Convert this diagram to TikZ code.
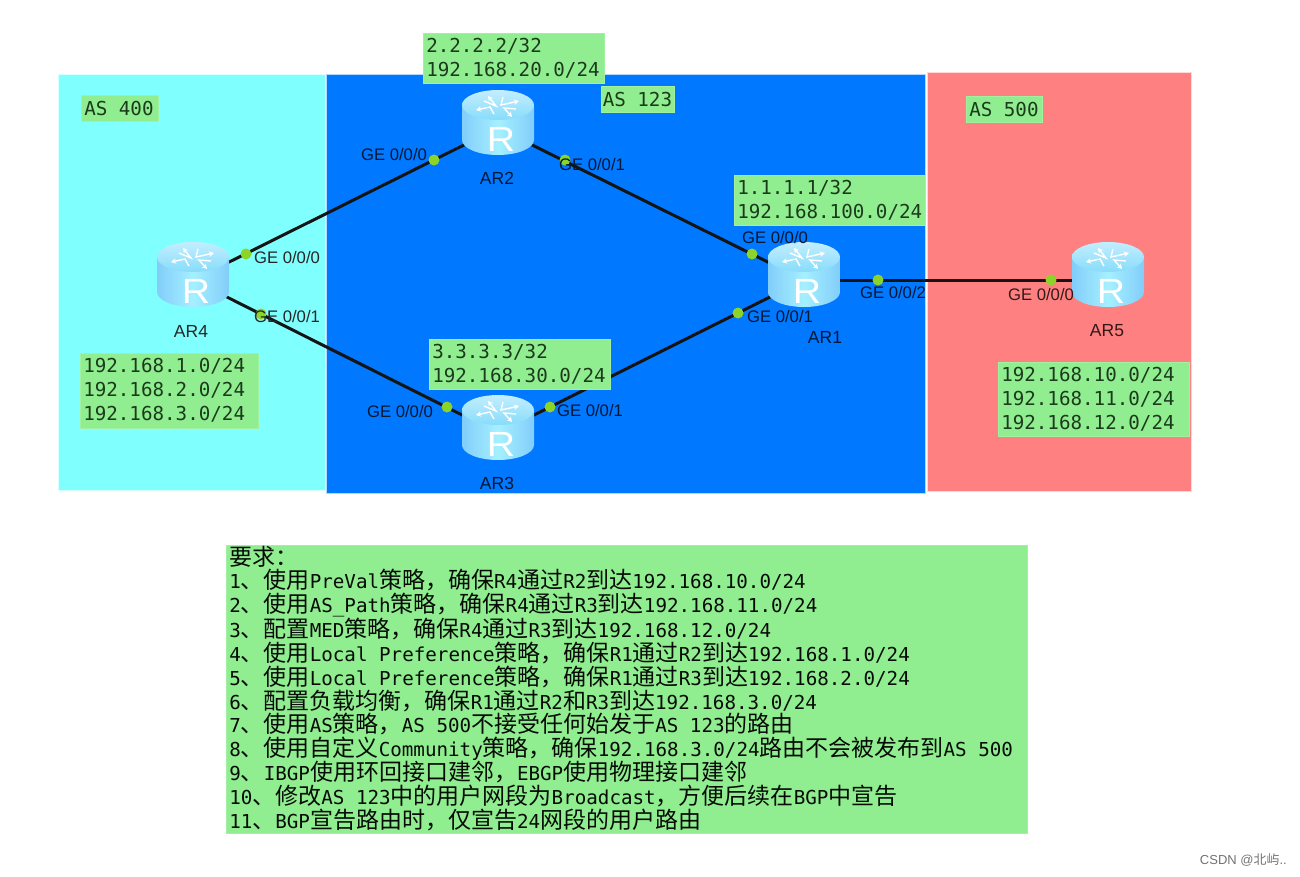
\documentclass[tikz,border=0pt]{standalone}
\usepackage{fontspec}
\setmainfont{Liberation Sans}
\newfontfamily\monof{DejaVu Sans Mono}
\newfontfamily\cjkf{Noto Sans CJK SC}
\newfontfamily\routerf{Liberation Sans}
\usetikzlibrary{arrows.meta}
\definecolor{gbox}{HTML}{90EE90}
\definecolor{gtext}{HTML}{1C3A1C}
\definecolor{as4}{HTML}{80FFFF}
\definecolor{as1}{HTML}{0078FF}
\definecolor{as5}{HTML}{FF8080}
\definecolor{dotc}{HTML}{8CD42A}
\newcommand{\Cj}[1]{{\cjkf\fontsize{23}{23.7}\selectfont #1}}
\tikzset{
  x=1pt,y=-1pt,
  region/.style={draw=white!70!#1,line width=1pt,fill=#1,anchor=north west,inner sep=0pt},
  greenbox/.style={fill=gbox,draw=gbox!85!white,line width=.5pt,anchor=north west,inner xsep=3pt,inner ysep=0pt,align=flush left,text=gtext,
    font=\monof\fontsize{19.2}{24}\selectfont},
  reqbox/.style={greenbox,font=\monof\fontsize{19.2}{23.8}\selectfont,text=black!80!gtext},
  port/.style={circle,fill=dotc,inner sep=0pt,minimum size=11pt},
  iflabel/.style={font=\fontsize{16.7}{18}\selectfont,text=#1,inner sep=0pt},
  iflabel/.default={black!85},
  rname/.style={font=\fontsize{17.5}{18}\selectfont,text=#1,inner sep=0pt},
  rname/.default={black!85},
  rbox/.style={minimum width=74pt,minimum height=66pt,inner sep=0pt},
  link/.style={line width=3pt,draw=black!92},
  iconarrow/.style={draw=white,line width=1.4pt,-{Stealth[length=5pt,width=5.5pt]}},
  router/.pic={
    \path[left color={rgb,255:red,130;green,205;blue,250},right color={rgb,255:red,130;green,205;blue,250},middle color={rgb,255:red,165;green,240;blue,255}]
      (-36,-16) -- (-36,18) arc[start angle=180,end angle=360,x radius=36pt,y radius=15pt] -- (36,-16) -- cycle;
    \path[top color={rgb,255:red,195;green,238;blue,255},bottom color={rgb,255:red,135;green,220;blue,250}]
      (0,-17) ellipse[x radius=36pt,y radius=15pt];
    \draw[iconarrow] (-14,-21) -- (-2,-16) -- (-10,-26);
    \draw[iconarrow] (5,-25) -- (3,-17) -- (21,-21);
    \draw[iconarrow] (-4,-8) -- (-8,-15) -- (-22,-12);
    \draw[iconarrow] (18,-13) -- (6,-14) -- (14,-5);
    \node[text=white,inner sep=0pt,xscale=1.12,font=\routerf\fontsize{35}{35}\selectfont] at (3,17) {R};
  }
}
\begin{document}
\begin{tikzpicture}
\useasboundingbox (0,0) rectangle (1300,876);
\fill[white] (0,0) rectangle (1300,876);
% regions
\node (regA) [region=as4,minimum width=267pt,minimum height=416pt] at (58,74) {};
\node (regB) [region=as1,minimum width=599pt,minimum height=419pt] at (326,74) {};
\node (regC) [region=as5,minimum width=264pt,minimum height=419pt] at (927,72) {};
% routers (anchors for links)
\node (ar4) [rbox] at (193,280) {};
\node (ar2) [rbox] at (498,128) {};
\node (ar3) [rbox] at (498,433) {};
\node (ar1) [rbox] at (804,280) {};
\node (ar5) [rbox] at (1108,280) {};
% links
\draw[link] (ar4.center) -- (ar2.center);
\draw[link] (ar2.center) -- (ar1.center);
\draw[link] (ar4.center) -- (ar3.center);
\draw[link] (ar3.center) -- (ar1.center);
\draw[link] (ar1.center) -- (ar5.center);
% router pictures
\pic[yshift=6pt] at (ar4) {router};
\pic[yshift=6pt] at (ar2) {router};
\pic[yshift=6pt] at (ar3) {router};
\pic[yshift=6pt] at (ar1) {router};
\pic[yshift=6pt] at (ar5) {router};
% ports
\node (p1) [port] at (246,254) {};
\node (p2) [port] at (434,160) {};
\node (p3) [port] at (565,160) {};
\node (p4) [port] at (752,254) {};
\node (p5) [port] at (261,314) {};
\node (p6) [port] at (447,407) {};
\node (p7) [port] at (550,407) {};
\node (p8) [port] at (738,313) {};
\node (p9) [port] at (878,280) {};
\node (p10) [port] at (1051,280) {};
% interface labels
\node (l1) [iflabel] at (287,258) {GE 0/0/0};
\node (l2) [iflabel] at (287,317) {GE 0/0/1};
\node (l3) [iflabel={black!80!as1}] at (394,155) {GE 0/0/0};
\node (l4) [iflabel={black!80!as1}] at (592,165) {GE 0/0/1};
\node (l5) [iflabel={black!80!as1}] at (400,412) {GE 0/0/0};
\node (l6) [iflabel={black!80!as1}] at (590,411) {GE 0/0/1};
\node (l7) [iflabel={black!80!as1}] at (775,238) {GE 0/0/0};
\node (l8) [iflabel={black!80!as1}] at (780,317) {GE 0/0/1};
\node (l9) [iflabel={black!80!as1}] at (893,293) {GE 0/0/2};
\node (l10) [iflabel={black!80!as5}] at (1041,295) {GE 0/0/0};
% router names
\node (n4) [rname] at (191,331) {AR4};
\node (n2) [rname={black!80!as1}] at (497,178) {AR2};
\node (n3) [rname={black!80!as1}] at (497,483) {AR3};
\node (n1) [rname={black!80!as1}] at (825,337) {AR1};
\node (n5) [rname={black!80!as5}] at (1107,331) {AR5};
% green labels
\node (t1) [greenbox,text width=71pt,minimum height=26pt] at (81,95) {AS 400};
\node (t2) [greenbox,inner xsep=1.5pt,text width=69.5pt,minimum height=26pt] at (601,86) {AS 123};
\node (t3) [greenbox,text width=70pt,minimum height=26pt] at (966,96) {AS 500};
\node (t4) [greenbox,text width=175pt,minimum height=50pt] at (423,33) {2.2.2.2/32\\192.168.20.0/24};
\node (t5) [greenbox,text width=185pt,minimum height=50pt] at (734,175) {1.1.1.1/32\\192.168.100.0/24};
\node (t6) [greenbox,text width=175pt,minimum height=50pt] at (429,339) {3.3.3.3/32\\192.168.30.0/24};
\node (t7) [greenbox,text width=172pt,minimum height=75pt] at (80,353) {192.168.1.0/24\\192.168.2.0/24\\192.168.3.0/24};
\node (t8) [greenbox,text width=185pt,minimum height=74pt] at (998,362) {192.168.10.0/24\\192.168.11.0/24\\192.168.12.0/24};
% requirements
\node (req) [reqbox,text width=795pt,minimum height=288pt] at (226,545) {%
\Cj{要求：}\\
1\Cj{、使用}PreVal\Cj{策略，确保}R4\Cj{通过}R2\Cj{到达}192.168.10.0/24\\
2\Cj{、使用}AS\_Path\Cj{策略，确保}R4\Cj{通过}R3\Cj{到达}192.168.11.0/24\\
3\Cj{、配置}MED\Cj{策略，确保}R4\Cj{通过}R3\Cj{到达}192.168.12.0/24\\
4\Cj{、使用}Local Preference\Cj{策略，确保}R1\Cj{通过}R2\Cj{到达}192.168.1.0/24\\
5\Cj{、使用}Local Preference\Cj{策略，确保}R1\Cj{通过}R3\Cj{到达}192.168.2.0/24\\
6\Cj{、配置负载均衡，确保}R1\Cj{通过}R2\Cj{和}R3\Cj{到达}192.168.3.0/24\\
7\Cj{、使用}AS\Cj{策略，}AS 500\Cj{不接受任何始发于}AS 123\Cj{的路由}\\
8\Cj{、使用自定义}Community\Cj{策略，确保}192.168.3.0/24\Cj{路由不会被发布到}AS 500\\
9\Cj{、}IBGP\Cj{使用环回接口建邻，}EBGP\Cj{使用物理接口建邻}\\
10\Cj{、修改}AS 123\Cj{中的用户网段为}Broadcast\Cj{，方便后续在}BGP\Cj{中宣告}\\
11\Cj{、}BGP\Cj{宣告路由时，仅宣告}24\Cj{网段的用户路由}\par\vspace*{2pt}};
% watermark
\node (wm) [inner sep=0pt,text=black!55,font=\fontsize{13}{14}\selectfont,anchor=east] at (1287,860) {CSDN @{\cjkf 北屿}..};
\end{tikzpicture}
\end{document}
